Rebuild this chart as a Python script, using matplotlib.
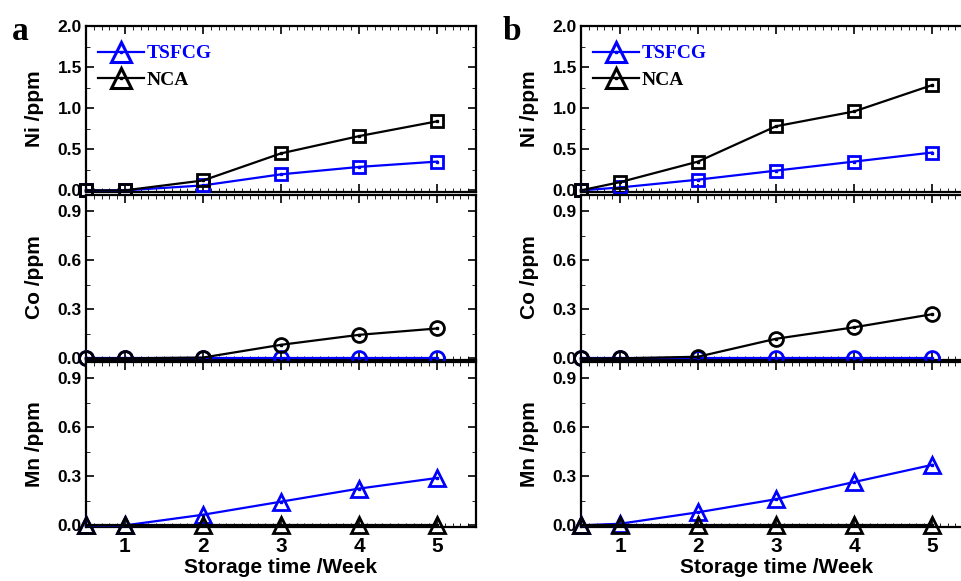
import matplotlib
matplotlib.use("Agg")
import matplotlib.pyplot as plt
from matplotlib.lines import Line2D
from matplotlib.ticker import MultipleLocator, FixedLocator

plt.rcParams['font.family'] = ['Liberation Sans', 'DejaVu Sans']
plt.rcParams['font.weight'] = 'bold'

# Storage time positions (first point is the fresh sample)
weeks = [0.5, 1, 2, 3, 4, 5]
week_ticks = [1, 2, 3, 4, 5]
series_names = ["TSFCG", "NCA"]

# Panel a: dissolved metal content, ppm
ni_a_tsfcg = [0.0, 0.0, 0.06, 0.195, 0.285, 0.35]
ni_a_nca = [0.0, 0.0, 0.12, 0.45, 0.66, 0.84]
co_a_tsfcg = [0.0, 0.0, 0.0, 0.0, 0.0, 0.0]
co_a_nca = [0.0, 0.0, 0.005, 0.083, 0.144, 0.183]
mn_a_tsfcg = [0.0, 0.0, 0.065, 0.145, 0.225, 0.29]
mn_a_nca = [0.0, 0.0, 0.0, 0.0, 0.0, 0.0]

# Panel b
ni_b_tsfcg = [0.0, 0.035, 0.13, 0.24, 0.35, 0.46]
ni_b_nca = [0.0, 0.10, 0.35, 0.78, 0.96, 1.28]
co_b_tsfcg = [0.0, 0.0, 0.0, 0.0, 0.0, 0.0]
co_b_nca = [0.0, 0.0, 0.01, 0.12, 0.19, 0.27]
mn_b_tsfcg = [0.0, 0.01, 0.08, 0.16, 0.265, 0.37]
mn_b_nca = [0.0, 0.0, 0.0, 0.0, 0.0, 0.0]

BLUE = '#0000FF'
BLACK = '#000000'

W, H = 961, 581
fig = plt.figure(figsize=(W / 100, H / 100), dpi=100)


def px_axes(left, top, right, bottom):
    return fig.add_axes([left / W, 1 - bottom / H, (right - left) / W, (bottom - top) / H])


def style_axis(ax, ylim, ymajor, yminor, ylabel, show_x):
    ax.set_xlim(0.5, 5.5)
    ax.set_ylim(*ylim)
    ax.xaxis.set_major_locator(FixedLocator(week_ticks))
    ax.xaxis.set_minor_locator(MultipleLocator(0.1))
    ax.yaxis.set_major_locator(MultipleLocator(ymajor))
    ax.yaxis.set_minor_locator(MultipleLocator(yminor))
    ax.tick_params(which='both', direction='in', top=True, right=True, width=1.2)
    ax.tick_params(which='major', length=6)
    ax.tick_params(which='minor', length=3, width=0.6)
    ax.tick_params(axis='y', labelsize=12.5, pad=3)
    ax.tick_params(axis='x', labelsize=15, pad=7)
    for sp in ax.spines.values():
        sp.set_linewidth(1.6)
    ax.set_ylabel(ylabel, fontsize=15, fontweight='bold')
    ax.yaxis.set_label_coords(-0.108, 0.5)
    if show_x:
        ax.set_xlabel("Storage time /Week", fontsize=15, fontweight='bold')
        ax.xaxis.set_label_coords(0.5, -0.19)
    else:
        ax.tick_params(axis='x', labelbottom=False)


def draw(ax, y_tsfcg, y_nca, marker, ms):
    for y, c, z in ((y_tsfcg, BLUE, 3), (y_nca, BLACK, 4)):
        ax.plot(weeks, y, color=c, lw=1.6, marker=marker, ms=ms, mfc='none',
                mec=c, mew=2.0, zorder=z, clip_on=False)
        ax.plot(weeks, y, ls='none', marker='s', ms=1.8, mfc=c, mec=c,
                zorder=z + 0.5, clip_on=False)


panels = [
    (86, (ni_a_tsfcg, ni_a_nca), (co_a_tsfcg, co_a_nca), (mn_a_tsfcg, mn_a_nca), 'a', 12),
    (581, (ni_b_tsfcg, ni_b_nca), (co_b_tsfcg, co_b_nca), (mn_b_tsfcg, mn_b_nca), 'b', 503),
]

for left, ni, co, mn, letter, lx in panels:
    right = left + 390
    ax_ni = px_axes(left, 26, right, 192)
    ax_co = px_axes(left, 195, right, 360)
    ax_mn = px_axes(left, 362, right, 527)

    style_axis(ax_ni, (-0.02, 2.0), 0.5, 0.25, "Ni /ppm", False)
    style_axis(ax_co, (-0.01, 1.0), 0.3, 0.15, "Co /ppm", False)
    style_axis(ax_mn, (-0.01, 1.0), 0.3, 0.15, "Mn /ppm", True)

    draw(ax_ni, ni[0], ni[1], 's', 8)
    draw(ax_co, co[0], co[1], 'o', 10)
    draw(ax_mn, mn[0], mn[1], '^', 11.5)

    handles = []
    for c in (BLUE, BLACK):
        h_line = Line2D([], [], color=c, lw=1.6, marker='^', ms=14, mfc='none', mec=c, mew=2.2)
        h_dot = Line2D([], [], ls='none', marker='s', ms=1.8, mfc=c, mec=c)
        handles.append((h_line, h_dot))
    leg = ax_ni.legend(handles, series_names, loc='upper left',
                       bbox_to_anchor=(0.02, 0.91), frameon=False,
                       prop={'family': ['Liberation Serif'], 'weight': 'bold', 'size': 14},
                       handlelength=2.4, handletextpad=0.1, labelspacing=0.45,
                       borderpad=0.2, borderaxespad=0.0)
    for txt, c in zip(leg.get_texts(), (BLUE, BLACK)):
        txt.set_color(c)

    fig.text(lx / W, 1 - 40 / H, letter, fontsize=24, fontweight='bold',
             family=['Liberation Serif'], va='baseline', ha='left')

fig.savefig("out.png", dpi=100)
